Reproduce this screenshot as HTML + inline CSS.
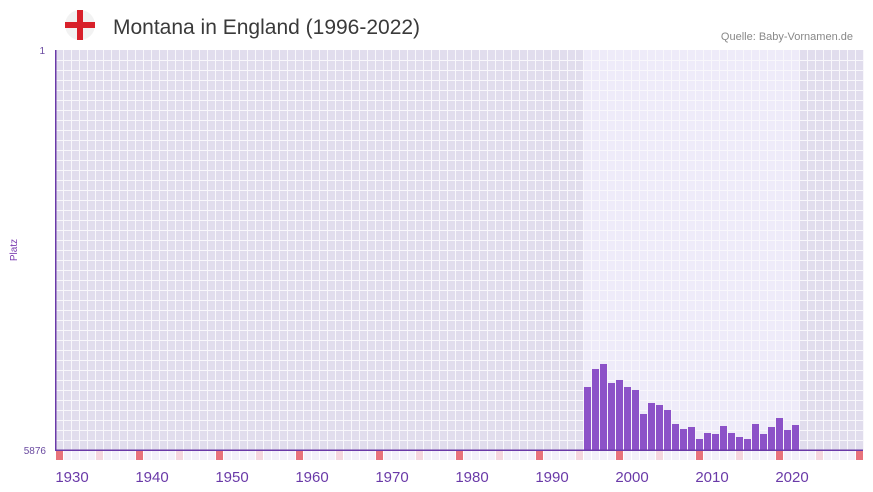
<!DOCTYPE html>
<html><head><meta charset="utf-8"><style>
html,body{margin:0;padding:0;background:#fff;width:873px;height:492px;overflow:hidden}
svg text{font-family:"Liberation Sans",sans-serif}
</style></head><body>
<svg id="s" width="873" height="492" xmlns="http://www.w3.org/2000/svg">
<circle cx="80" cy="25" r="15" fill="#f2f2f2"/>
<rect x="77" y="10" width="6" height="30" fill="#d8202a"/>
<rect x="65" y="22" width="30" height="6" fill="#d8202a"/>
<text x="113" y="34" font-size="21" fill="#3a3a3a">Montana in England (1996-2022)</text>
<text x="853" y="40" font-size="11" fill="#888" text-anchor="end">Quelle: Baby-Vornamen.de</text>
<text x="45" y="54" font-size="10" fill="#6a4aa0" text-anchor="end">1</text>
<text x="46" y="454" font-size="10" fill="#6a4aa0" text-anchor="end">5876</text>
<text transform="translate(17,250) rotate(-90)" font-size="10" fill="#7a3ab0" text-anchor="middle">Platz</text>
<g id="g"></g>
</svg>
<script>
var g=document.getElementById('g'),h='';
h+='<rect x="56" y="50" width="807" height="400" fill="#e1dded"/>';
h+='<rect x="584" y="50" width="216" height="400" fill="#eeebf9"/>';
for(var i=0;i<=101;i++){h+='<rect x="'+(55+i*8)+'" y="50" width="1" height="400" fill="#f8f7fb"/>';}
for(var j=1;j<40;j++){h+='<rect x="56" y="'+(50+j*10)+'" width="807" height="1" fill="#f8f7fb"/>';}
var v=[387,369,364,383,380,387,390,414,403,405,410,424,429,427,439,433,434,426,433,437,439,424,434,427,418,430,425];
for(var k=0;k<v.length;k++){h+='<rect x="'+(584+k*8)+'" y="'+v[k]+'" width="7" height="'+(450-v[k])+'" fill="#8c52c8"/>';}
for(var i=0;i<101;i++){var y=1930+i,c='#f3f0fa';if(y%10==0)c='#e8737c';else if(y%5==0)c='#f5d6df';
h+='<rect x="'+(56+i*8)+'" y="451" width="7" height="9" fill="'+c+'"/>';}
h+='<rect x="55" y="50" width="1.5" height="401" fill="#6a3aa8"/>';
h+='<rect x="55" y="449.5" width="808" height="1.5" fill="#6a3aa8"/>';
for(var y=1930;y<=2020;y+=10){var x=56+(y-1930)*8+16;h+='<text x="'+x+'" y="482" font-size="15" fill="#6a3aa8" text-anchor="middle">'+y+'</text>';}
g.innerHTML=h;
</script>
</body></html>
